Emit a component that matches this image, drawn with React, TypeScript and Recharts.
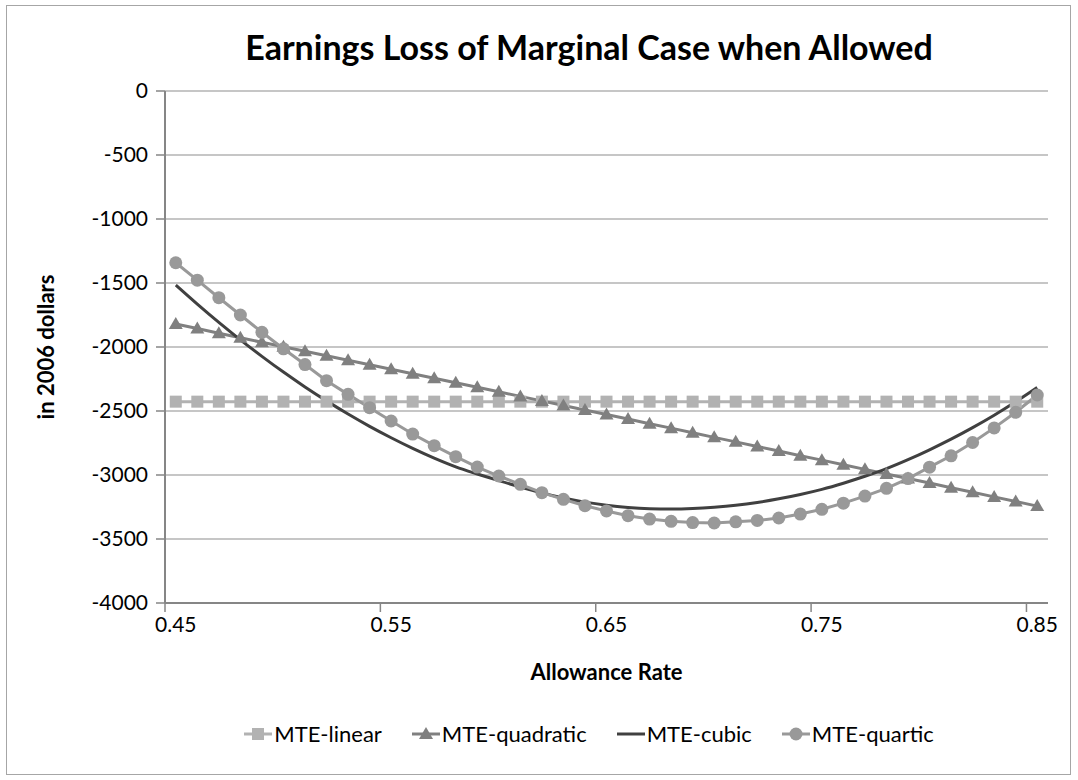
import React from "react";
import { CartesianGrid, Label, Line, LineChart, XAxis, YAxis } from "recharts";

const rates = [
  0.45, 0.46, 0.47, 0.48, 0.49, 0.5, 0.51, 0.52, 0.53, 0.54, 0.55, 0.56, 0.57, 0.58,
  0.59, 0.6, 0.61, 0.62, 0.63, 0.64, 0.65, 0.66, 0.67, 0.68, 0.69, 0.7, 0.71, 0.72,
  0.73, 0.74, 0.75, 0.76, 0.77, 0.78, 0.79, 0.8, 0.81, 0.82, 0.83, 0.84, 0.85,
];

const mteLinear = [
  -2427, -2427, -2427, -2427, -2427, -2427, -2427, -2427, -2427, -2427, -2427, -2427,
  -2427, -2427, -2427, -2427, -2427, -2427, -2427, -2427, -2427, -2427, -2427, -2427,
  -2427, -2427, -2427, -2427, -2427, -2427, -2427, -2427, -2427, -2427, -2427, -2427,
  -2427, -2427, -2427, -2427, -2427,
];

const mteQuadratic = [
  -1820, -1856, -1892, -1928, -1963, -1998, -2033, -2068, -2103, -2139, -2174, -2209,
  -2244, -2280, -2315, -2350, -2386, -2421, -2457, -2492, -2528, -2563, -2599, -2634,
  -2670, -2706, -2741, -2777, -2813, -2849, -2884, -2920, -2956, -2992, -3028, -3063,
  -3099, -3135, -3171, -3207, -3243,
];

const mteCubic = [
  -1516, -1665, -1808, -1944, -2073, -2196, -2312, -2421, -2524, -2620, -2709, -2792,
  -2868, -2936, -2992, -3044, -3094, -3140, -3180, -3212, -3236, -3253, -3263, -3266,
  -3262, -3252, -3237, -3215, -3186, -3152, -3112, -3064, -3010, -2950, -2880, -2803,
  -2720, -2630, -2533, -2428, -2316,
];

const mteQuartic = [
  -1342, -1478, -1615, -1750, -1885, -2014, -2137, -2263, -2370, -2474, -2578, -2680,
  -2771, -2857, -2938, -3008, -3073, -3138, -3190, -3240, -3281, -3318, -3344, -3362,
  -3372, -3375, -3366, -3355, -3336, -3305, -3268, -3220, -3165, -3104, -3028, -2939,
  -2850, -2746, -2632, -2510, -2375,
];

const xLabelTicks = [0.45, 0.55, 0.65, 0.75, 0.85];
const xMarkTicks = [0.445, 0.545, 0.645, 0.745, 0.845];
const yTicks = [0, -500, -1000, -1500, -2000, -2500, -3000, -3500, -4000];

const data = rates.map((rate, i) => ({
  rate,
  linear: mteLinear[i],
  quadratic: mteQuadratic[i],
  cubic: mteCubic[i],
  quartic: mteQuartic[i],
}));

const FONT = "Lato, 'Open Sans', sans-serif";
const AXIS = "#868686";
const GRID = "#b3b3b3";
const TICK = 9;

const series = [
  { key: "linear", name: "MTE-linear", color: "#b2b2b2", marker: "square" },
  { key: "quadratic", name: "MTE-quadratic", color: "#808080", marker: "triangle" },
  { key: "cubic", name: "MTE-cubic", color: "#404040", marker: "none" },
  { key: "quartic", name: "MTE-quartic", color: "#999999", marker: "circle" },
];

function Marker({ type, cx, cy, color }: { type: string; cx: number; cy: number; color: string }) {
  if (type === "square") return <rect x={cx - 6} y={cy - 6} width={12} height={12} fill={color} />;
  if (type === "triangle")
    return <polygon points={`${cx},${cy - 7} ${cx + 7},${cy + 5} ${cx - 7},${cy + 5}`} fill={color} />;
  if (type === "circle") return <circle cx={cx} cy={cy} r={6.5} fill={color} />;
  return null;
}

function makeDot(type: string, color: string) {
  return (p: any) => {
    if (p.cx == null || p.cy == null) return <g key={p.index} />;
    return (
      <g key={p.index}>
        <Marker type={type} cx={p.cx} cy={p.cy} color={color} />
      </g>
    );
  };
}

function XTick(props: any) {
  const { x, y, payload } = props;
  const v = payload.value;
  if (xMarkTicks.includes(v)) {
    return <line x1={x} x2={x} y1={y - TICK} y2={y} stroke={AXIS} strokeWidth={1.5} />;
  }
  return (
    <text x={x} y={y + 11} textAnchor="middle" dominantBaseline="central" fontSize={21} fill="#000" fontFamily={FONT}>
      {v.toFixed(2)}
    </text>
  );
}

function LegendIcon({ type, color }: { type: string; color: string }) {
  return (
    <svg width={28} height={16} style={{ display: "block" }}>
      <line x1={0} x2={28} y1={8} y2={8} stroke={color} strokeWidth={3} />
      <Marker type={type} cx={14} cy={8} color={color} />
    </svg>
  );
}

export default function App() {
  return (
    <div style={{ position: "absolute", left: 0, top: 0, width: 1078, height: 780, background: "#fff", fontFamily: FONT }}>
      <div
        style={{
          position: "absolute",
          left: 6,
          top: 5,
          width: 1065,
          height: 770,
          border: "1px solid #a6a6a6",
          boxSizing: "border-box",
        }}
      />
      <div
        style={{
          position: "absolute",
          left: 0,
          top: 26,
          width: 1178,
          textAlign: "center",
          fontSize: 34,
          lineHeight: "42px",
          fontWeight: 700,
          color: "#000",
        }}
      >
        Earnings Loss of Marginal Case when Allowed
      </div>
      <LineChart width={1078} height={780} data={data} margin={{ top: 91, right: 30, bottom: 117, left: 0 }}>
        <CartesianGrid vertical={false} stroke={GRID} strokeWidth={1.5} />
        <XAxis
          dataKey="rate"
          type="number"
          domain={[0.445, 0.855]}
          ticks={[...xMarkTicks, ...xLabelTicks].sort((a, b) => a - b)}
          interval={0}
          tick={<XTick />}
          tickLine={false}
          tickSize={TICK}
          tickMargin={0}
          height={60}
          axisLine={{ stroke: AXIS, strokeWidth: 2 }}
        >
          <Label
            content={({ viewBox }: any) => (
              <text
                x={viewBox.x + viewBox.width / 2}
                y={viewBox.y + 68}
                textAnchor="middle"
                dominantBaseline="central"
                fontSize={22}
                fontWeight={700}
                fontFamily={FONT}
                fill="#000"
              >
                Allowance Rate
              </text>
            )}
          />
        </XAxis>
        <YAxis
          type="number"
          domain={[-4000, 0]}
          ticks={yTicks}
          interval={0}
          width={165}
          tickSize={TICK}
          tickMargin={8}
          tickLine={{ stroke: AXIS, strokeWidth: 1.5 }}
          axisLine={{ stroke: AXIS, strokeWidth: 2 }}
          tick={{ fontSize: 21, fill: "#000", fontFamily: FONT }}
        >
          <Label
            content={({ viewBox }: any) => {
              const cx = viewBox.x + 45;
              const cy = viewBox.y + viewBox.height / 2;
              return (
                <text
                  x={cx}
                  y={cy}
                  transform={`rotate(-90 ${cx} ${cy})`}
                  textAnchor="middle"
                  dominantBaseline="central"
                  fontSize={22}
                  fontWeight={700}
                  fontFamily={FONT}
                  fill="#000"
                >
                  in 2006 dollars
                </text>
              );
            }}
          />
        </YAxis>
        {series.map((s) => (
          <Line
            key={s.key}
            dataKey={s.key}
            name={s.name}
            type={s.marker === "none" ? "monotone" : "linear"}
            stroke={s.color}
            strokeWidth={3}
            dot={s.marker === "none" ? false : makeDot(s.marker, s.color)}
            activeDot={false}
            isAnimationActive={false}
          />
        ))}
      </LineChart>
      <div
        style={{
          position: "absolute",
          left: 0,
          top: 720,
          width: 1178,
          display: "flex",
          justifyContent: "center",
          gap: 30,
          fontSize: 22,
          color: "#000",
        }}
      >
        {series.map((s) => (
          <div key={s.key} style={{ display: "flex", alignItems: "center", gap: 2 }}>
            <LegendIcon type={s.marker} color={s.color} />
            <span>{s.name}</span>
          </div>
        ))}
      </div>
    </div>
  );
}
